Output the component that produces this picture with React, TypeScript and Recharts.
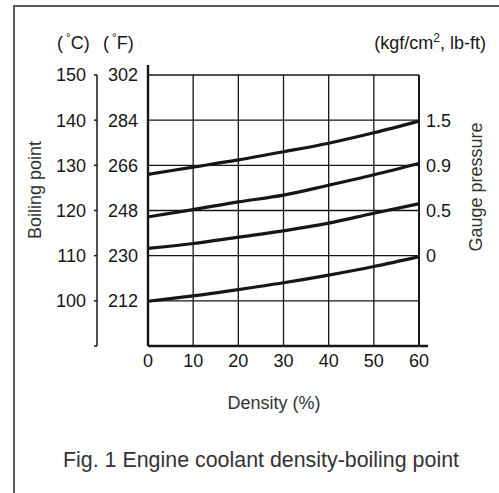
import { CartesianGrid, Line, LineChart, ReferenceLine, XAxis, YAxis } from "recharts";

// density of coolant (%)
const density = [0, 10, 20, 30, 40, 50, 60];

// boiling point in °C for each gauge pressure curve
const gauge15 = [128.0, 129.6, 131.2, 133.0, 134.9, 137.2, 139.8];
const gauge09 = [118.6, 120.2, 121.9, 123.4, 125.6, 127.9, 130.4];
const gauge05 = [111.6, 112.7, 114.1, 115.5, 117.2, 119.4, 121.5];
const gauge0 = [99.9, 101.1, 102.5, 104.0, 105.7, 107.6, 109.8];

const celsiusTicks = [90, 100, 110, 120, 130, 140, 150];
const celsiusLabels = ["", "100", "110", "120", "130", "140", "150"];
const fahrenheitLabels = ["", "212", "230", "248", "266", "284", "302"];

const pressureTicks = [110, 120, 130, 140];
const pressureLabels = ["0", "0.5", "0.9", "1.5"];

const data = density.map((d, i) => ({
  density: d,
  p15: gauge15[i],
  p09: gauge09[i],
  p05: gauge05[i],
  p0: gauge0[i],
}));

const INK = "#161616";
const FONT = "'Liberation Sans', Arial, Helvetica, sans-serif";
const tickStyle = { fontSize: 18, fill: INK, fontFamily: FONT };

// all three y axes share the same °C scale, so any curve can sit on any of them.
// left axes stack by id: "left1" (°F) sits next to the plot, "left2" (°C) outside it
export default function App() {
  return (
    <div
      style={{
        position: "absolute",
        left: 0,
        top: 0,
        width: 499,
        height: 493,
        background: "#fff",
        overflow: "hidden",
        fontFamily: FONT,
      }}
    >
      <div
        style={{
          position: "absolute",
          left: 13,
          top: 5,
          width: 520,
          height: 520,
          borderLeft: "2px solid #5a5a5a",
          borderTop: "2px solid #5a5a5a",
        }}
      />
      <LineChart
        width={499}
        height={493}
        data={data}
        margin={{ top: 75, right: 10, left: 14, bottom: 87 }}
        style={{ position: "absolute", left: 0, top: 0 }}
      >
        <CartesianGrid yAxisId="left1" stroke={INK} strokeWidth={1.3} />
        <XAxis
          dataKey="density"
          type="number"
          domain={[0, 60]}
          ticks={density}
          height={60}
          axisLine={false}
          tickLine={false}
          tickSize={0}
          tickMargin={8}
          tick={tickStyle}
        />
        <YAxis
          yAxisId="left1"
          type="number"
          domain={[90, 150]}
          ticks={celsiusTicks}
          tickFormatter={(v) => fahrenheitLabels[celsiusTicks.indexOf(v)]}
          width={51}
          axisLine={false}
          tickLine={false}
          tickSize={0}
          tickMargin={10}
          tick={tickStyle}
        />
        <YAxis
          yAxisId="left2"
          type="number"
          domain={[90, 150]}
          ticks={celsiusTicks}
          tickFormatter={(v) => celsiusLabels[celsiusTicks.indexOf(v)]}
          width={83}
          axisLine={{ stroke: INK, strokeWidth: 1.5 }}
          tickLine={{ stroke: INK, strokeWidth: 1.5 }}
          tickSize={3}
          tickMargin={8}
          tick={tickStyle}
        />
        <YAxis
          yAxisId="right"
          orientation="right"
          type="number"
          domain={[90, 150]}
          ticks={pressureTicks}
          tickFormatter={(v) => pressureLabels[pressureTicks.indexOf(v)]}
          width={70}
          axisLine={false}
          tickLine={false}
          tickSize={0}
          tickMargin={7}
          tick={tickStyle}
        />
        <ReferenceLine
          yAxisId="left1"
          segment={[{ x: 0, y: 90 }, { x: 62, y: 90 }]}
          ifOverflow="visible"
          stroke={INK}
          strokeWidth={2.4}
        />
        <ReferenceLine
          yAxisId="left1"
          segment={[{ x: 0, y: 90 }, { x: 0, y: 152.2 }]}
          ifOverflow="visible"
          stroke={INK}
          strokeWidth={2.4}
        />
        <ReferenceLine
          yAxisId="left1"
          segment={[{ x: 60, y: 90 }, { x: 60, y: 150 }]}
          stroke={INK}
          strokeWidth={2}
        />
        <Line yAxisId="left1" type="monotone" dataKey="p15" stroke={INK} strokeWidth={3.2} dot={false} isAnimationActive={false} />
        <Line yAxisId="left1" type="monotone" dataKey="p09" stroke={INK} strokeWidth={3.2} dot={false} isAnimationActive={false} />
        <Line yAxisId="left2" type="monotone" dataKey="p05" stroke={INK} strokeWidth={3.2} dot={false} isAnimationActive={false} />
        <Line yAxisId="right" type="monotone" dataKey="p0" stroke={INK} strokeWidth={3.2} dot={false} isAnimationActive={false} />
      </LineChart>
      <svg
        width={499}
        height={493}
        style={{ position: "absolute", left: 0, top: 0, pointerEvents: "none" }}
        fontFamily={FONT}
        fill={INK}
      >
        <text x={57} y={49} fontSize={18}>
          (<tspan fontSize={12} dx={3} dy={-7}>°</tspan>
          <tspan dy={7}>C)</tspan>
        </text>
        <text x={103} y={49} fontSize={18}>
          (<tspan fontSize={12} dx={3} dy={-7}>°</tspan>
          <tspan dy={7}>F)</tspan>
        </text>
        <text x={486} y={49} fontSize={18} textAnchor="end">
          (kgf/cm<tspan fontSize={12} dy={-7}>2</tspan>
          <tspan dy={7}>, lb-ft)</tspan>
        </text>
        <text x={35} y={190} fontSize={18} textAnchor="middle" dominantBaseline="central" transform="rotate(-90 35 190)" fill="#333">
          Boiling point
        </text>
        <text x={476} y={187} fontSize={18} textAnchor="middle" dominantBaseline="central" transform="rotate(-90 476 187)" fill="#333">
          Gauge pressure
        </text>
        <text x={274} y={403} fontSize={18} textAnchor="middle" dominantBaseline="central" fill="#333">
          Density (%)
        </text>
        <text x={261} y={460} fontSize={21.4} textAnchor="middle" dominantBaseline="central" fill="#333">
          Fig. 1 Engine coolant density-boiling point
        </text>
      </svg>
    </div>
  );
}
